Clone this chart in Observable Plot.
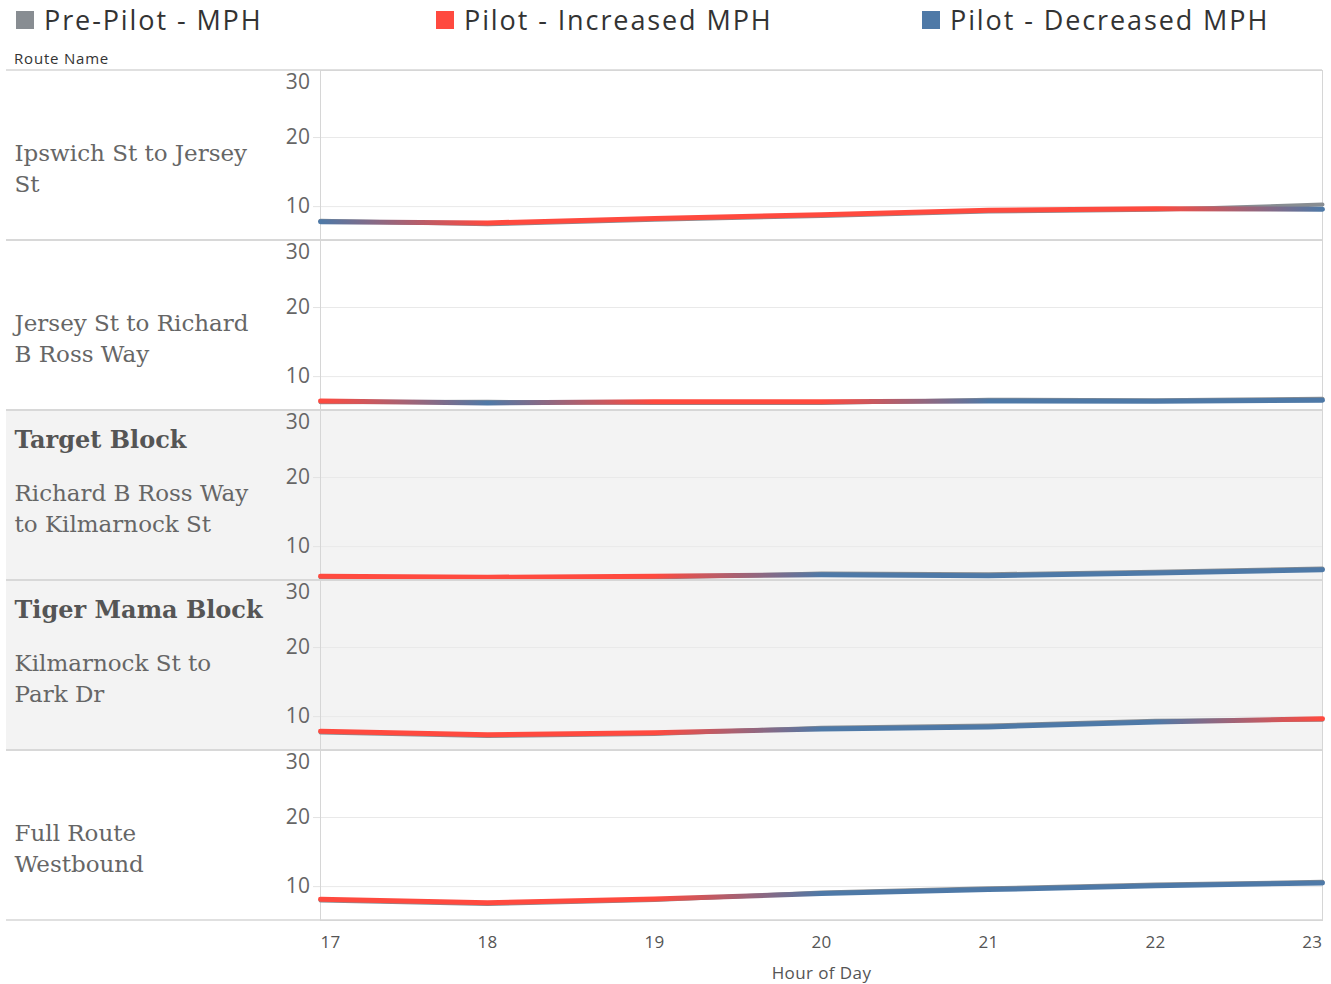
<!DOCTYPE html>
<html>
<head>
<meta charset="utf-8">
<script src="https://cdn.jsdelivr.net/npm/d3@7"></script>
<script src="https://cdn.jsdelivr.net/npm/@observablehq/plot@0.6"></script>
<style>
  body { margin: 0; background: #fff; }
  #header { position: relative; height: 68px; font-family: "Open Sans", sans-serif; }
  .lg { position: absolute; top: 1px; display: flex; align-items: center; font-size: 27px; letter-spacing: 1.9px; color: #333; white-space: nowrap; }
  .sw { width: 18px; height: 18px; margin-right: 10px; }
  #routeName { position: absolute; left: 14px; top: 48px; font-size: 15px; letter-spacing: 0.8px; color: #333; }
  #chart svg g[aria-label$="tick label"] text, #chart svg g[aria-label$="label"] text { letter-spacing: 0.4px; }
  #chart svg g.route-text text { letter-spacing: 0; }
</style>
</head>
<body>
<div id="header"><div id="routeName">Route Name</div></div>
<div id="chart"></div>
<script>
// ---- data ----
const hours = [17, 18, 19, 20, 21, 22, 23];
const routes = [
  "Ipswich St to Jersey St",
  "Jersey St to Richard B Ross Way",
  "Richard B Ross Way to Kilmarnock St",
  "Kilmarnock St to Park Dr",
  "Full Route Westbound"
];
const routeLabels = [
  "Ipswich St to Jersey\nSt",
  "Jersey St to Richard\nB Ross Way",
  "Richard B Ross Way\nto Kilmarnock St",
  "Kilmarnock St to\nPark Dr",
  "Full Route\nWestbound"
];
const routeHeaders = ["", "", "Target Block", "Tiger Mama Block", ""];
const highlightedRoutes = ["Richard B Ross Way to Kilmarnock St", "Kilmarnock St to Park Dr"];

const prePilotIpswich  = [7.95, 7.45, 8.10, 8.65, 9.30, 9.55, 10.30];
const pilotIpswich     = [7.83, 7.64, 8.30, 8.84, 9.48, 9.71, 9.62];
const prePilotJersey   = [6.30, 6.35, 6.20, 6.20, 6.65, 6.60, 6.80];
const pilotJersey      = [6.48, 6.19, 6.38, 6.38, 6.48, 6.43, 6.58];
const prePilotTarget   = [5.55, 5.45, 5.55, 6.10, 6.00, 6.35, 6.85];
const pilotTarget      = [5.71, 5.57, 5.71, 5.94, 5.80, 6.19, 6.67];
const prePilotTiger    = [7.70, 7.20, 7.50, 8.40, 8.70, 9.40, 9.55];
const pilotTiger       = [7.88, 7.39, 7.68, 8.22, 8.51, 9.23, 9.71];
const prePilotFull     = [8.00, 7.50, 8.05, 9.15, 9.75, 10.30, 10.70];
const pilotFull        = [8.17, 7.68, 8.22, 8.99, 9.57, 10.14, 10.54];

const prePilotMph = [prePilotIpswich, prePilotJersey, prePilotTarget, prePilotTiger, prePilotFull];
const pilotMph = [pilotIpswich, pilotJersey, pilotTarget, pilotTiger, pilotFull];

const seriesNames = ["Pre-Pilot - MPH", "Pilot - Increased MPH", "Pilot - Decreased MPH"];
const seriesColors = ["#888d92", "#ff4a3f", "#4e79a7"];
const yTicks = [10, 20];
const yTopTick = [30];
const xTicksInner = [18, 19, 20, 21, 22];

// ---- layout constants ----
const W = 1331, H = 916;
const legendLefts = [16, 436, 922];

// legend
const header = document.getElementById("header");
seriesNames.forEach((name, i) => {
  const d = document.createElement("div");
  d.className = "lg";
  d.style.left = legendLefts[i] + "px";
  d.innerHTML = `<div class="sw" style="background:${seriesColors[i]}"></div><span>${name}</span>`;
  header.appendChild(d);
});

// rows
const rows = [];
routes.forEach((r, i) => hours.forEach((h, j) => {
  const pre = prePilotMph[i][j], pilot = pilotMph[i][j];
  rows.push({route: r, hour: h, pre, pilot, color: pilot >= pre ? seriesColors[1] : seriesColors[2]});
}));
const routeInfo = routes.map((r, i) => ({route: r, label: routeLabels[i], header: routeHeaders[i]}));

const tickFont = "Open Sans";
const serif = "DejaVu Serif";
const fmt = d => String(d);

const plot = Plot.plot({
  width: W,
  height: H,
  marginTop: 2,
  marginBottom: 64,
  marginLeft: 320,
  marginRight: 9,
  style: {background: "transparent", overflow: "visible"},
  x: {domain: [17, 23]},
  y: {domain: [5.1, 29.7]},
  fy: {domain: routes, padding: 0, axis: null},
  marks: [
    Plot.gridY({ticks: yTicks, stroke: "#e9e9e9", strokeOpacity: 1}),
    Plot.frame({stroke: "#d6d6d6"}),
    Plot.axisY({ticks: yTicks, tickSize: 7, tickPadding: 3, stroke: "#e3e3e3", fill: "#666", fontSize: 21, fontFamily: tickFont, label: null}),
    Plot.axisY({ticks: yTopTick, tickSize: 0, tickPadding: 10, dy: 14, fill: "#666", fontSize: 21, fontFamily: tickFont, label: null}),
    Plot.axisX({ticks: xTicksInner, tickFormat: fmt, tickSize: 0, tickPadding: 15, fill: "#555", fontSize: 17, fontFamily: tickFont,
      label: "Hour of Day", labelAnchor: "center", labelArrow: "none", labelOffset: 58}),
    Plot.axisX({ticks: [hours[0]], tickFormat: fmt, tickSize: 0, tickPadding: 15, textAnchor: "start", fill: "#555", fontSize: 17, fontFamily: tickFont, label: null}),
    Plot.axisX({ticks: [hours[hours.length - 1]], tickFormat: fmt, tickSize: 0, tickPadding: 15, textAnchor: "end", fill: "#555", fontSize: 17, fontFamily: tickFont, label: null}),
    Plot.line(rows, {x: "hour", y: "pre", fy: "route", z: "route", stroke: seriesColors[0], strokeWidth: 4, strokeLinejoin: "round"}),
    ...routes.map((r, i) => Plot.line(rows.filter(d => d.route === r), {
      x: "hour", y: "pilot", fy: "route", stroke: `url(#pilotGrad${i})`, strokeWidth: 5, strokeLinejoin: "round"
    })),
    Plot.text(routeInfo, {fy: "route", text: "label", frameAnchor: "top-left", dx: -306, dy: 96, textAnchor: "start",
      lineAnchor: "middle", lineHeight: 1.35, fontSize: 23, fontFamily: serif, fill: "#666", className: "route-text"}),
    Plot.text(routeInfo.filter(d => d.header), {fy: "route", text: "header", frameAnchor: "top-left", dx: -306, dy: 30,
      textAnchor: "start", lineAnchor: "middle", fontSize: 24, fontWeight: "bold", fontFamily: serif, fill: "#555", className: "route-text"})
  ]
});

document.getElementById("chart").appendChild(plot);

// background bands, separators and gradients from the plot's own scales
const svg = d3.select(plot);
svg.selectAll("g.route-text text").style("letter-spacing", "0px");
const fy = plot.scale("fy");
const xs = plot.scale("x");
const bw = fy.bandwidth;
const bg = svg.insert("g", ":first-child");
routes.forEach(r => {
  const top = fy.apply(r);
  if (highlightedRoutes.includes(r)) {
    bg.append("rect").attr("x", 6).attr("y", top).attr("width", W - 9 - 6).attr("height", bw).attr("fill", "#f3f3f3");
  }
});
const sep = svg.append("g").attr("stroke", "#d6d6d6").attr("stroke-width", 1.5);
routes.forEach(r => {
  const top = fy.apply(r);
  sep.append("line").attr("x1", 6).attr("x2", W - 9).attr("y1", top).attr("y2", top);
  sep.append("line").attr("x1", 6).attr("x2", W - 9).attr("y1", top + bw).attr("y2", top + bw);
});
const defs = svg.insert("defs", ":first-child");
const x0 = xs.apply(hours[0]), x1 = xs.apply(hours[hours.length - 1]);
routes.forEach((r, i) => {
  const g = defs.append("linearGradient").attr("id", `pilotGrad${i}`)
    .attr("gradientUnits", "userSpaceOnUse").attr("x1", x0).attr("x2", x1).attr("y1", 0).attr("y2", 0);
  rows.filter(d => d.route === r).forEach(d => {
    g.append("stop").attr("offset", (xs.apply(d.hour) - x0) / (x1 - x0)).attr("stop-color", d.color);
  });
});
</script>
</body>
</html>
